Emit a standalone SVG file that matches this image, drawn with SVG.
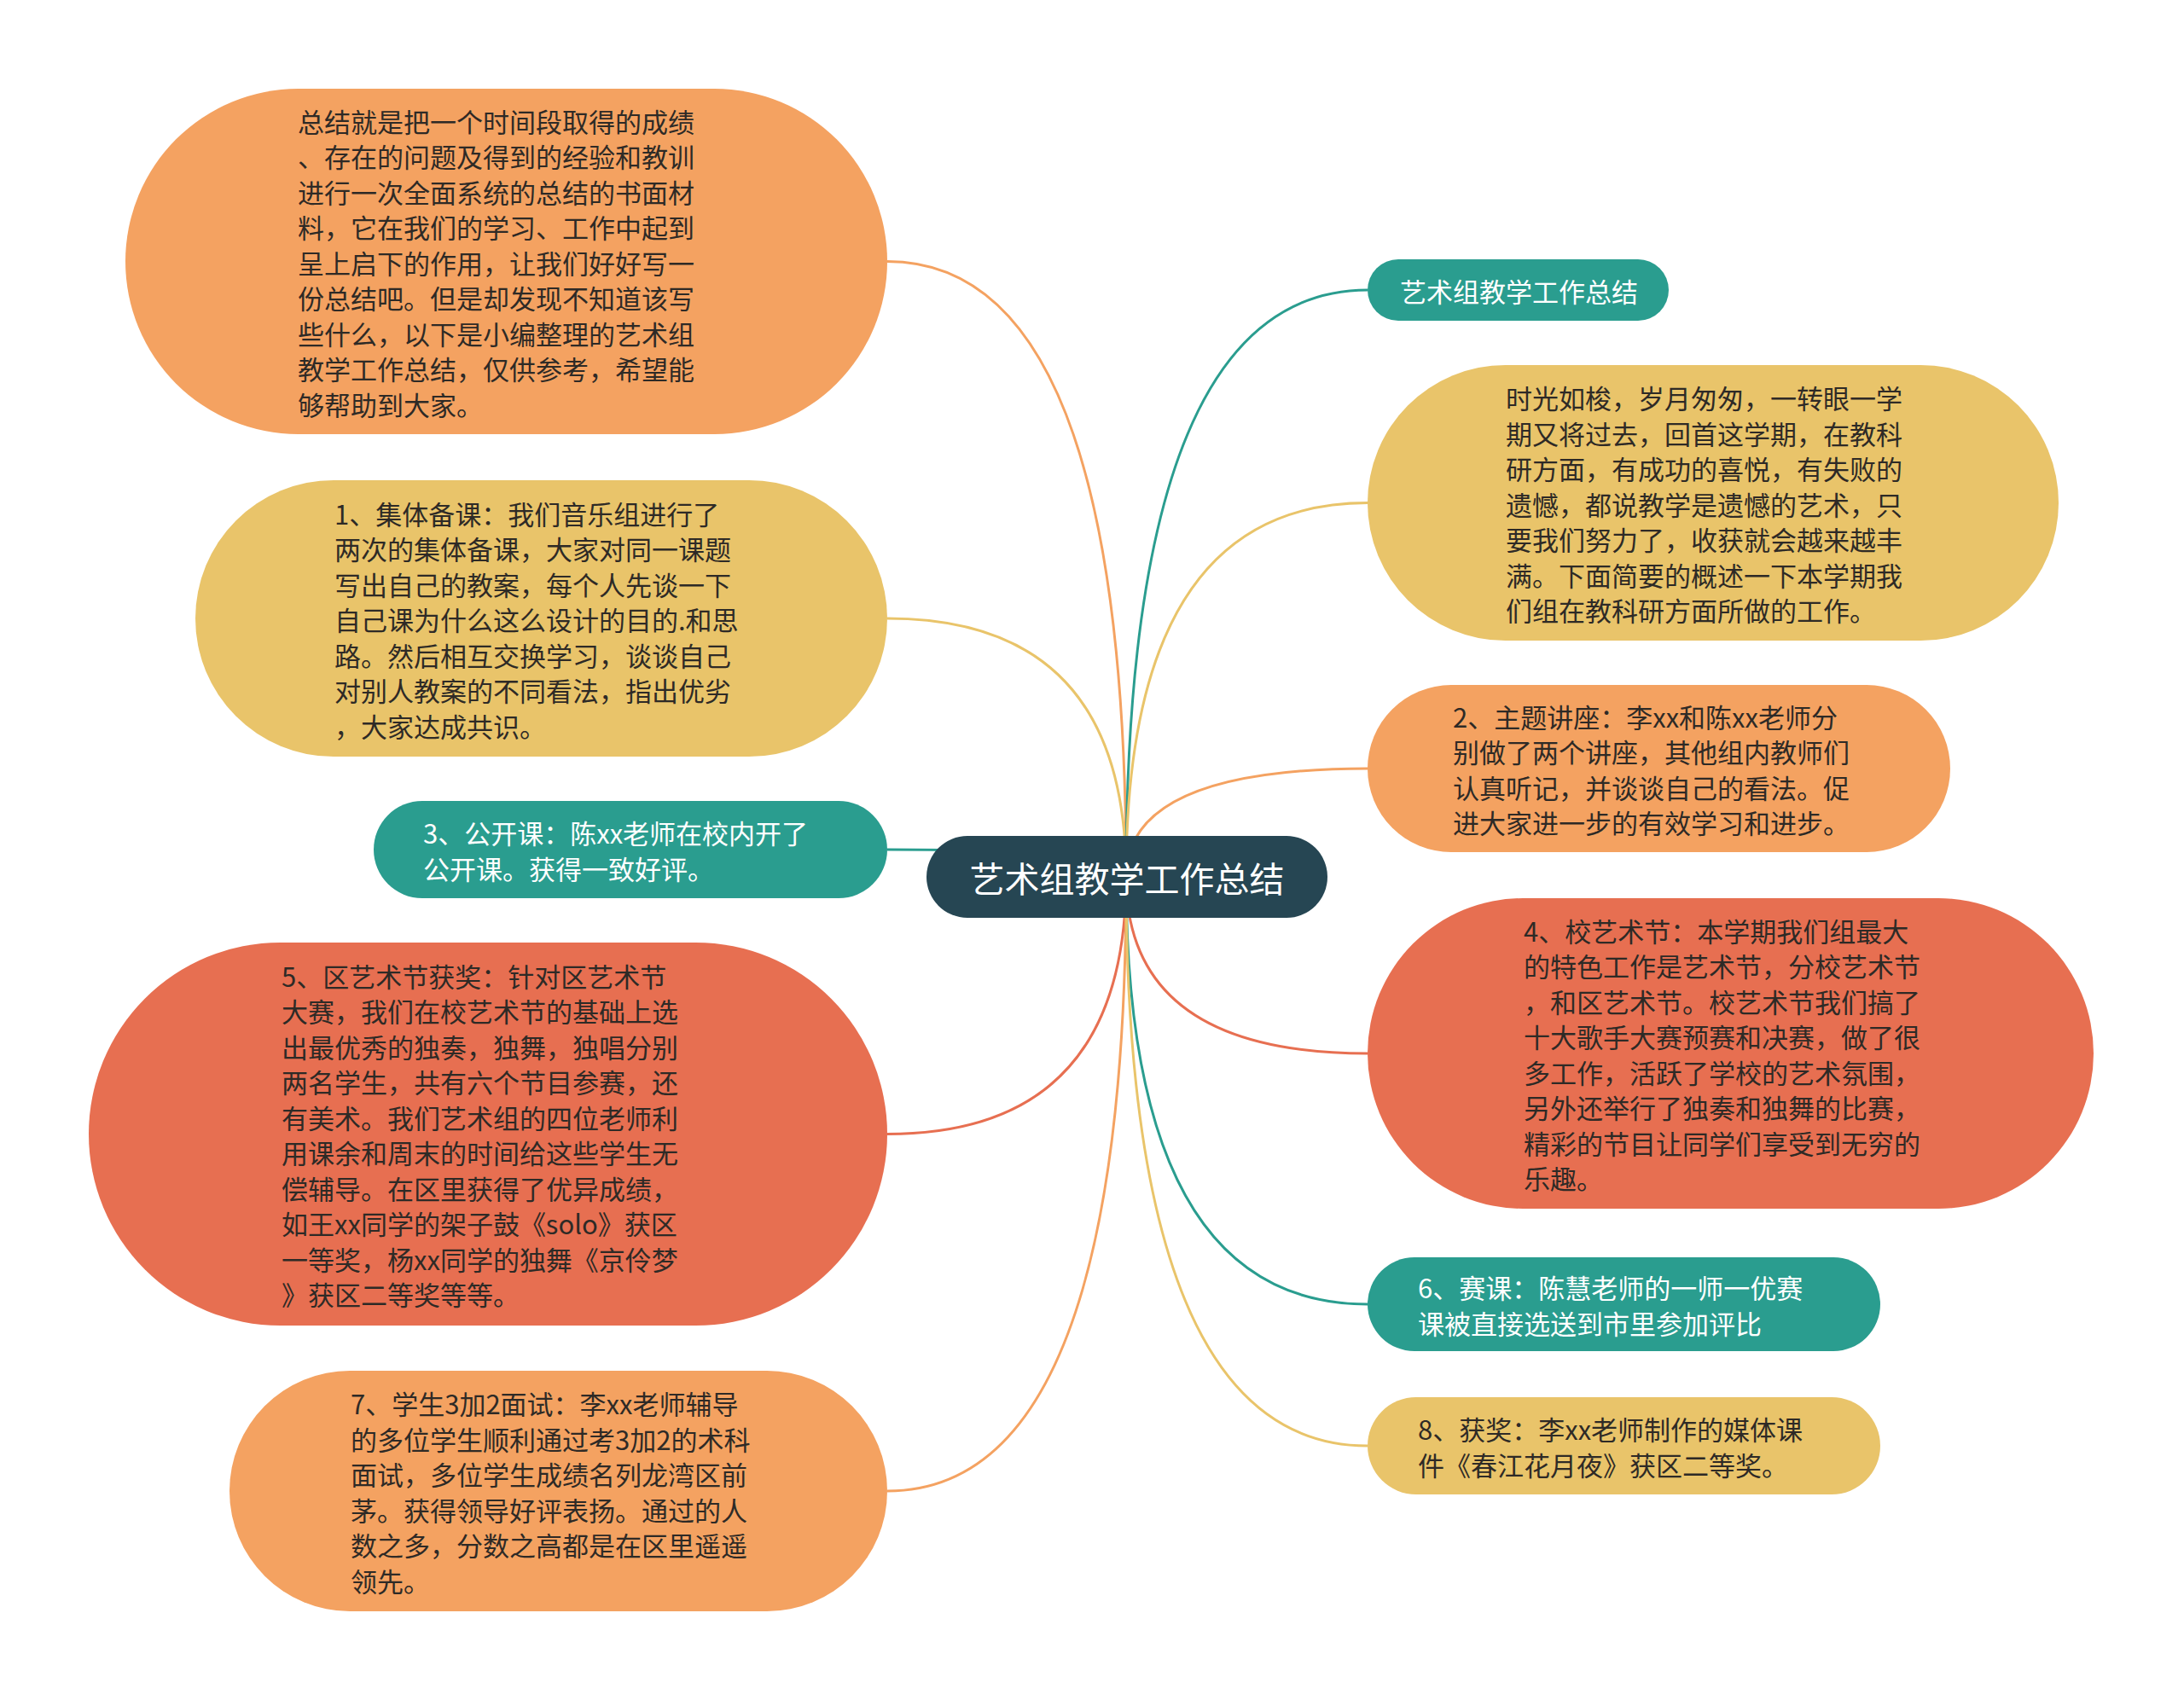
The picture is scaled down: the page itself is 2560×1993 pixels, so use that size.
<svg xmlns="http://www.w3.org/2000/svg" width="2560" height="1993" viewBox="0 0 2560 1993">
<style>
.t{font-family:"Noto Sans CJK SC","Noto Sans",sans-serif;font-size:31px;fill:#2e2a26;dominant-baseline:central}
.w{fill:#ffffff}
.c{font-family:"Noto Sans CJK SC","Noto Sans",sans-serif;font-size:41px;fill:#ffffff;dominant-baseline:central;text-anchor:middle}
.e{fill:none;stroke-width:3}
.teal{fill:#2a9d8f}.yel{fill:#e9c46a}.ora{fill:#f4a261}.red{fill:#e76f51}
</style>
<rect width="2560" height="1993" fill="#ffffff"/>
<g id="connectors">
<path class="e" stroke="#f4a261" d="M1320 1028 Q1320 306.5 1040 306.5"/>
<path class="e" stroke="#e9c46a" d="M1320 1028 Q1320 725 1040 725"/>
<path class="e" stroke="#2a9d8f" d="M1320 1028 Q1320 996 1040 996"/>
<path class="e" stroke="#e76f51" d="M1320 1028 Q1320 1329.5 1040 1329.5"/>
<path class="e" stroke="#f4a261" d="M1320 1028 Q1320 1748 1040 1748"/>
<path class="e" stroke="#2a9d8f" d="M1320 1028 Q1320 340 1603 340"/>
<path class="e" stroke="#e9c46a" d="M1320 1028 Q1320 589.5 1603 589.5"/>
<path class="e" stroke="#f4a261" d="M1320 1028 Q1320 901 1603 901"/>
<path class="e" stroke="#e76f51" d="M1320 1028 Q1320 1235 1603 1235"/>
<path class="e" stroke="#2a9d8f" d="M1320 1028 Q1320 1529 1603 1529"/>
<path class="e" stroke="#e9c46a" d="M1320 1028 Q1320 1695 1603 1695"/>
</g>
<g id="center">
<rect x="1086" y="980" width="470" height="96" rx="48" fill="#264653"/>
<text class="c" x="1321" y="1028">艺术组教学工作总结</text>
</g>
<g id="nodeA">
<rect class="ora" x="147" y="104" width="893" height="405" rx="202.5"/>
<text class="t" x="349"><tspan x="349" y="140.5">总结就是把一个时间段取得的成绩</tspan><tspan x="349" y="182">、存在的问题及得到的经验和教训</tspan><tspan x="349" y="223.5">进行一次全面系统的总结的书面材</tspan><tspan x="349" y="265">料，它在我们的学习、工作中起到</tspan><tspan x="349" y="306.5">呈上启下的作用，让我们好好写一</tspan><tspan x="349" y="348">份总结吧。但是却发现不知道该写</tspan><tspan x="349" y="389.5">些什么，以下是小编整理的艺术组</tspan><tspan x="349" y="431">教学工作总结，仅供参考，希望能</tspan><tspan x="349" y="472.5">够帮助到大家。</tspan></text>
</g>
<g id="nodeB">
<rect class="yel" x="229" y="563" width="811" height="324" rx="162"/>
<text class="t"><tspan x="392" y="600.5">1、集体备课：我们音乐组进行了</tspan><tspan x="392" y="642">两次的集体备课，大家对同一课题</tspan><tspan x="392" y="683.5">写出自己的教案，每个人先谈一下</tspan><tspan x="392" y="725">自己课为什么这么设计的目的.和思</tspan><tspan x="392" y="766.5">路。然后相互交换学习，谈谈自己</tspan><tspan x="392" y="808">对别人教案的不同看法，指出优劣</tspan><tspan x="392" y="849.5">，大家达成共识。</tspan></text>
</g>
<g id="nodeC">
<rect class="teal" x="438" y="939" width="602" height="114" rx="57"/>
<text class="t w"><tspan x="496" y="975.25">3、公开课：陈xx老师在校内开了</tspan><tspan x="496" y="1016.75">公开课。获得一致好评。</tspan></text>
</g>
<g id="nodeD">
<rect class="red" x="104" y="1105" width="936" height="449" rx="224.5"/>
<text class="t"><tspan x="330" y="1142.75">5、区艺术节获奖：针对区艺术节</tspan><tspan x="330" y="1184.25">大赛，我们在校艺术节的基础上选</tspan><tspan x="330" y="1225.75">出最优秀的独奏，独舞，独唱分别</tspan><tspan x="330" y="1267.25">两名学生，共有六个节目参赛，还</tspan><tspan x="330" y="1308.75">有美术。我们艺术组的四位老师利</tspan><tspan x="330" y="1350.25">用课余和周末的时间给这些学生无</tspan><tspan x="330" y="1391.75">偿辅导。在区里获得了优异成绩，</tspan><tspan x="330" y="1433.25">如王xx同学的架子鼓《solo》获区</tspan><tspan x="330" y="1474.75">一等奖，杨xx同学的独舞《京伶梦</tspan><tspan x="330" y="1516.25">》获区二等奖等等。</tspan></text>
</g>
<g id="nodeE">
<rect class="ora" x="269" y="1607" width="771" height="282" rx="141"/>
<text class="t"><tspan x="411" y="1644.25">7、学生3加2面试：李xx老师辅导</tspan><tspan x="411" y="1685.75">的多位学生顺利通过考3加2的术科</tspan><tspan x="411" y="1727.25">面试，多位学生成绩名列龙湾区前</tspan><tspan x="411" y="1768.75">茅。获得领导好评表扬。通过的人</tspan><tspan x="411" y="1810.25">数之多，分数之高都是在区里遥遥</tspan><tspan x="411" y="1851.75">领先。</tspan></text>
</g>
<g id="nodeTitle">
<rect class="teal" x="1603" y="304" width="353" height="72" rx="36"/>
<text class="t w" x="1641" y="340">艺术组教学工作总结</text>
</g>
<g id="nodeIntro">
<rect class="yel" x="1603" y="428" width="810" height="323" rx="161.5"/>
<text class="t"><tspan x="1765" y="465">时光如梭，岁月匆匆，一转眼一学</tspan><tspan x="1765" y="506.5">期又将过去，回首这学期，在教科</tspan><tspan x="1765" y="548">研方面，有成功的喜悦，有失败的</tspan><tspan x="1765" y="589.5">遗憾，都说教学是遗憾的艺术，只</tspan><tspan x="1765" y="631">要我们努力了，收获就会越来越丰</tspan><tspan x="1765" y="672.5">满。下面简要的概述一下本学期我</tspan><tspan x="1765" y="714">们组在教科研方面所做的工作。</tspan></text>
</g>
<g id="node2">
<rect class="ora" x="1603" y="803" width="683" height="196" rx="98"/>
<text class="t"><tspan x="1703" y="838.75">2、主题讲座：李xx和陈xx老师分</tspan><tspan x="1703" y="880.25">别做了两个讲座，其他组内教师们</tspan><tspan x="1703" y="921.75">认真听记，并谈谈自己的看法。促</tspan><tspan x="1703" y="963.25">进大家进一步的有效学习和进步。</tspan></text>
</g>
<g id="node4">
<rect class="red" x="1603" y="1053" width="851" height="364" rx="182"/>
<text class="t"><tspan x="1786" y="1089.75">4、校艺术节：本学期我们组最大</tspan><tspan x="1786" y="1131.25">的特色工作是艺术节，分校艺术节</tspan><tspan x="1786" y="1172.75">，和区艺术节。校艺术节我们搞了</tspan><tspan x="1786" y="1214.25">十大歌手大赛预赛和决赛，做了很</tspan><tspan x="1786" y="1255.75">多工作，活跃了学校的艺术氛围，</tspan><tspan x="1786" y="1297.25">另外还举行了独奏和独舞的比赛，</tspan><tspan x="1786" y="1338.75">精彩的节目让同学们享受到无穷的</tspan><tspan x="1786" y="1380.25">乐趣。</tspan></text>
</g>
<g id="node6">
<rect class="teal" x="1603" y="1474" width="601" height="110" rx="55"/>
<text class="t w"><tspan x="1662" y="1508.25">6、赛课：陈慧老师的一师一优赛</tspan><tspan x="1662" y="1549.75">课被直接选送到市里参加评比</tspan></text>
</g>
<g id="node8">
<rect class="yel" x="1603" y="1638" width="601" height="114" rx="57"/>
<text class="t"><tspan x="1662" y="1674.25">8、获奖：李xx老师制作的媒体课</tspan><tspan x="1662" y="1715.75">件《春江花月夜》获区二等奖。</tspan></text>
</g>
</svg>
